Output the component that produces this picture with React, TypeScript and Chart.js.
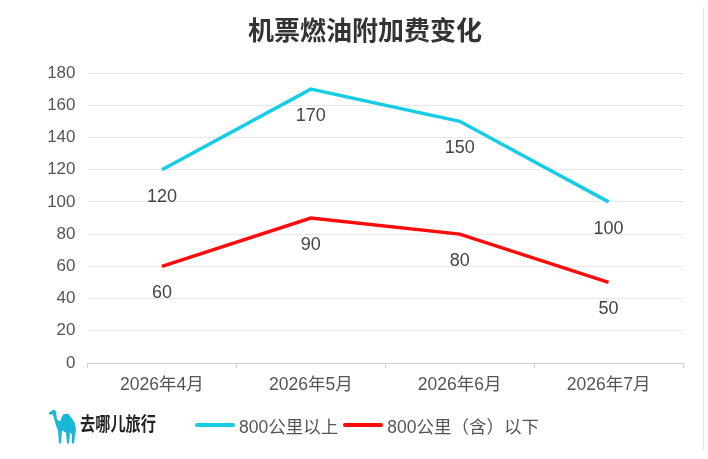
import React, { useEffect, useRef } from "react";
import { Chart, registerables } from "chart.js";

Chart.register(...registerables);

const categories = ["2026年4月", "2026年5月", "2026年6月", "2026年7月"];
const seriesAbove = [120, 170, 150, 100];
const seriesBelow = [60, 90, 80, 50];
const seriesNames = ["800公里以上", "800公里（含）以下"];
const seriesColors = ["#17cde6", "#ff0a0a"];
const yTicks = [0, 20, 40, 60, 80, 100, 120, 140, 160, 180];
const titleText = "机票燃油附加费变化";
const brandText = "去哪儿旅行";

const FONT = '"Liberation Sans", "Noto Sans CJK SC", sans-serif';

const dataLabelPlugin = {
  id: "dataLabelsBelow",
  afterDatasetsDraw(chart: any) {
    const ctx = chart.ctx;
    ctx.save();
    ctx.font = `18px ${FONT}`;
    ctx.fillStyle = "#444";
    ctx.textAlign = "center";
    ctx.textBaseline = "middle";
    chart.data.datasets.forEach((ds: any, i: number) => {
      const meta = chart.getDatasetMeta(i);
      meta.data.forEach((pt: any, j: number) => {
        ctx.fillText(String(ds.data[j]), pt.x, pt.y + 27);
      });
    });
    ctx.restore();
  },
};

export default function App() {
  const canvasRef = useRef<HTMLCanvasElement | null>(null);

  useEffect(() => {
    if (!canvasRef.current) return;
    const chart = new Chart(canvasRef.current, {
      type: "line",
      data: {
        labels: categories,
        datasets: [
          {
            label: seriesNames[0],
            data: seriesAbove,
            borderColor: seriesColors[0],
            backgroundColor: seriesColors[0],
            borderWidth: 3.5,
            pointRadius: 0,
            tension: 0,
          },
          {
            label: seriesNames[1],
            data: seriesBelow,
            borderColor: seriesColors[1],
            backgroundColor: seriesColors[1],
            borderWidth: 3.5,
            pointRadius: 0,
            tension: 0,
          },
        ],
      },
      options: {
        animation: false,
        responsive: false,
        maintainAspectRatio: false,
        layout: { padding: { left: 0, right: 25, top: 73, bottom: 0 } },
        plugins: {
          legend: { display: false },
          tooltip: { enabled: false },
          title: { display: false },
        },
        scales: {
          x: {
            offset: true,
            grid: {
              offset: true,
              drawOnChartArea: false,
              drawTicks: true,
              tickLength: 5,
              color: "#cfcfcf",
            },
            border: { color: "#cfcfcf" },
            ticks: {
              color: "#555",
              font: { family: FONT, size: 17.5 },
              padding: 7,
              maxRotation: 0,
            },
            afterFit(scale: any) {
              scale.height = 96;
            },
          },
          y: {
            min: 0,
            max: 180,
            afterBuildTicks(scale: any) {
              scale.ticks = yTicks.map((v) => ({ value: v }));
            },
            grid: { color: "#e8e8e8", drawTicks: false },
            border: { display: false },
            ticks: {
              color: "#555",
              font: { family: FONT, size: 17 },
              padding: 12,
            },
            afterFit(scale: any) {
              scale.width = 87.5;
            },
          },
        },
      },
      plugins: [dataLabelPlugin],
    });
    return () => chart.destroy();
  }, []);

  return (
    <div style={{ position: "relative", width: 708, height: 459, background: "#fff", overflow: "hidden" }}>
      <style>{`body{margin:0;}`}</style>
      <canvas ref={canvasRef} width={708} height={459} style={{ position: "absolute", left: 0, top: 0 }} />
      <div
        style={{
          position: "absolute",
          left: 0,
          width: 730,
          top: 15,
          height: 32,
          lineHeight: "32px",
          textAlign: "center",
          fontFamily: FONT,
          fontWeight: "bold",
          fontSize: 26,
          color: "#333",
          whiteSpace: "nowrap",
        }}
      >
        {titleText}
      </div>
      <div
        style={{
          position: "absolute",
          left: 703,
          top: 7,
          width: 1,
          height: 443,
          background: "#e6e6e6",
        }}
      />
      <svg
        width={30}
        height={35}
        viewBox="0 0 30 34"
        style={{ position: "absolute", left: 48, top: 409 }}
      >
        <path
          d="M1 3 L6 0 L8 2 L9 10 L12 12 L15 5 L20 4 L24 9 L27 14 L28 20 L27 26 L26 34 L24 34 L24 25 L22 23 L21 34 L19 34 L18 23 L14 21 L13 34 L11 34 L10 21 L8 16 L5 5 L1 5 Z"
          fill="#19b6d8"
        />
      </svg>
      <div
        style={{
          position: "absolute",
          left: 80,
          top: 412,
          height: 26,
          lineHeight: "26px",
          fontFamily: FONT,
          fontWeight: "bold",
          fontSize: 19,
          color: "#222",
          transform: "scaleX(0.8)",
          transformOrigin: "left center",
          whiteSpace: "nowrap",
        }}
      >
        {brandText}
      </div>
      <div
        style={{
          position: "absolute",
          left: 195,
          top: 412,
          height: 26,
          display: "flex",
          alignItems: "center",
          fontFamily: FONT,
          fontSize: 17.5,
          color: "#555",
          whiteSpace: "nowrap",
        }}
      >
        {seriesNames.map((name, i) => (
          <React.Fragment key={name}>
            <span
              style={{
                display: "inline-block",
                width: 40,
                height: 4,
                borderRadius: 2,
                background: seriesColors[i],
                marginRight: 4,
              }}
            />
            <span style={{ marginRight: 5 }}>{name}</span>
          </React.Fragment>
        ))}
      </div>
    </div>
  );
}
